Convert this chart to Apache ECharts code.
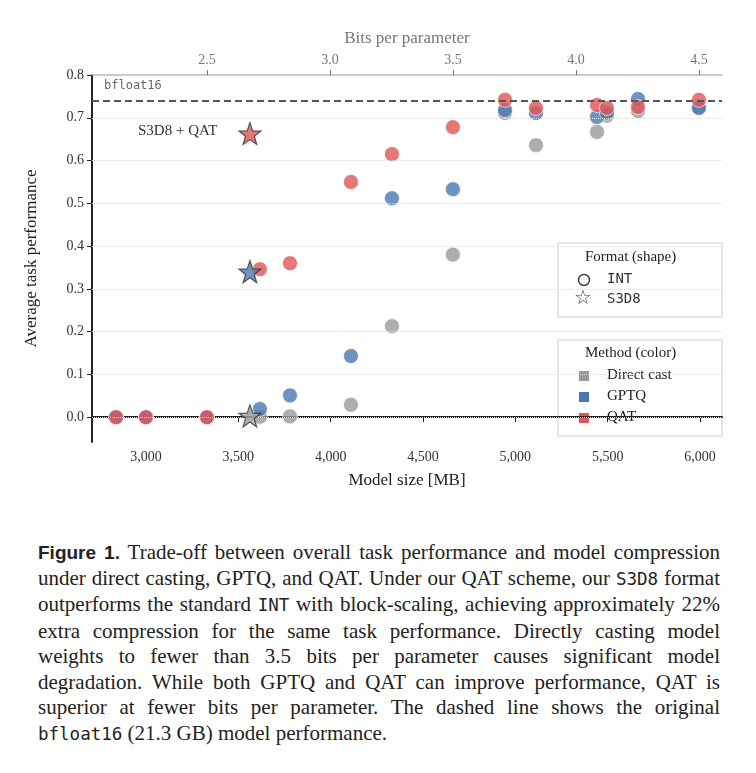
<!DOCTYPE html>
<html lang="en"><head><meta charset="utf-8">
<script src="https://cdn.jsdelivr.net/npm/echarts@6/dist/echarts.min.js"></script>
<style>
body{margin:0;background:#fff;width:756px;height:773px;overflow:hidden;position:relative}
#c{position:absolute;left:0;top:0;width:756px;height:520px}
#cap{position:absolute;left:38px;top:540px;width:682px;font-family:"Liberation Serif","DejaVu Serif",serif;font-size:21px;line-height:25.5px;color:#222;text-align:justify;hyphens:auto;-webkit-hyphens:auto}
#cap b{font-family:"Liberation Sans",sans-serif;font-size:19px}
code{font-family:"DejaVu Sans Mono",monospace;font-size:17.5px}
</style></head><body>
<div id="c"></div>
<div id="cap"><b>Figure 1.</b> Trade-off between overall task performance and model compression under direct casting, GPTQ, and QAT. Under our QAT scheme, our <code>S3D8</code> format outperforms the standard <code>INT</code> with block-scaling, achieving approximately 22% extra compression for the same task performance. Directly casting model weights to fewer than 3.5 bits per parameter causes significant model degradation. While both GPTQ and QAT can improve performance, QAT is superior at fewer bits per parameter. The dashed line shows the original <code>bfloat16</code> (21.3 GB) model performance.</div>
<script>
const sizes = [2838,3000,3330,3617,3780,4110,4332,4662,4944,5112,5442,5496,5664,5994];
const directCast = [0,0,0,0.001,0.002,0.029,0.213,0.380,0.711,0.636,0.667,0.705,0.716,0.725];
const gptq = [0,0,0,0.019,0.051,0.143,0.512,0.533,0.718,0.711,0.702,0.712,0.744,0.723];
const qat = [0,0,0,0.346,0.360,0.550,0.615,0.678,0.742,0.723,0.730,0.723,0.725,0.742];
const starSize = 3563;
const starDirect = 0.003, starGptq = 0.340, starQat = 0.663;
const bfloat16 = 0.745;
const xTicks = [3000,3500,4000,4500,5000,5500,6000];
const yTicks = [0,0.1,0.2,0.3,0.4,0.5,0.6,0.7,0.8];
const bitTicks = [2.5,3.0,3.5,4.0,4.5];
const MB_PER_BIT = 1332;
const xMin = 2708, xMax = 6119;
const C = {d:'#9a9a9a', g:'#4a78b0', q:'#e05558'};
const serif = '"Liberation Serif","DejaVu Serif",serif';
const STAR = 'path://M0,-10 L2.35,-3.24 L9.51,-3.09 L3.8,1.24 L5.88,8.09 L0,4 L-5.88,8.09 L-3.8,1.24 L-9.51,-3.09 L-2.35,-3.24 Z';
const chart = echarts.init(document.getElementById('c'));
const pts = a => sizes.map((s,i)=>[s,a[i]]);
const circ = (name,data,color)=>({name,type:'scatter',data:pts(data),symbol:'circle',symbolSize:15,
  itemStyle:{color,borderColor:'#fff',borderWidth:0.8},z:3});
const star = (v,color)=>({type:'scatter',data:[[starSize,v]],symbol:STAR,
  symbolSize:22,itemStyle:{color,borderColor:'#333',borderWidth:1.2},z:5});
const txt = (x,y,text,font,fill)=>({type:'text',x,y,style:{text,font,fill}});
chart.setOption({
  animation:false,
  grid:{left:92,right:34,top:75,bottom:78},
  xAxis:[{type:'value',min:xMin,max:xMax,position:'bottom',
    name:'Model size [MB]',nameLocation:'middle',nameGap:30,nameTextStyle:{fontFamily:serif,fontSize:17,color:'#222'},
    axisLine:{lineStyle:{color:'#222',width:2}},axisTick:{show:true,customValues:xTicks,length:5,lineStyle:{color:'#222'}},
    axisLabel:{customValues:xTicks,fontFamily:serif,fontSize:14,color:'#333'},
    splitLine:{show:false}},
   {type:'value',min:xMin/MB_PER_BIT,max:xMax/MB_PER_BIT,position:'top',
    name:'Bits per parameter',nameLocation:'middle',nameGap:28,nameTextStyle:{fontFamily:serif,fontSize:17,color:'#777'},
    axisLine:{lineStyle:{color:'#bbb',width:1.5}},axisTick:{show:true,customValues:bitTicks,length:5,lineStyle:{color:'#777'}},
    axisLabel:{customValues:bitTicks,formatter:v=>v.toFixed(1),fontFamily:serif,fontSize:14,color:'#777'},
    splitLine:{show:false}}],
  yAxis:{type:'value',min:-0.058,max:0.8,
    name:'Average task performance',nameLocation:'middle',nameGap:52,nameTextStyle:{fontFamily:serif,fontSize:17,color:'#222'},
    axisLine:{show:true,lineStyle:{color:'#222',width:2}},axisTick:{show:true,customValues:yTicks,length:5,lineStyle:{color:'#222'}},
    axisLabel:{customValues:yTicks,formatter:v=>v.toFixed(1),fontFamily:serif,fontSize:14,color:'#333'},
    splitLine:{show:false}},
  series:[
    {type:'scatter',data:[],markLine:{silent:true,symbol:'none',label:{show:false},lineStyle:{color:'#ddd',type:'dotted',width:1},
       data:yTicks.slice(0,8).map(v=>({yAxis:v}))}},
    {type:'scatter',data:[],markLine:{silent:true,symbol:'none',lineStyle:{color:'#555',type:[7,4],width:2},
       label:{show:false},data:[{yAxis:bfloat16}]}},
    circ('Direct cast',directCast,C.d),circ('GPTQ',gptq,C.g),circ('QAT',qat,C.q),
    star(starDirect,C.d),star(starGptq,C.g),star(starQat,C.q)
  ],
  graphic:[
    txt(104,80,'bfloat16','12px "DejaVu Sans Mono",monospace','#666'),
    txt(138,124,'S3D8 + QAT','15px '+serif,'#333'),
    {type:'rect',shape:{x:558,y:243,width:164,height:74},style:{fill:'rgba(255,255,255,0.9)',stroke:'#ccc',lineWidth:1}},
    txt(585,250,'Format (shape)','15px '+serif,'#222'),
    {type:'circle',shape:{cx:584,cy:280,r:5.5},style:{fill:'none',stroke:'#444',lineWidth:1.5}},
    txt(607,272,'INT','14px "DejaVu Sans Mono",monospace','#333'),
    txt(574,289,'☆','20px "DejaVu Sans",sans-serif','#444'),
    txt(607,292,'S3D8','14px "DejaVu Sans Mono",monospace','#333'),
    {type:'rect',shape:{x:558,y:340,width:164,height:96},style:{fill:'rgba(255,255,255,0.9)',stroke:'#ccc',lineWidth:1}},
    txt(585,346,'Method (color)','15px '+serif,'#222'),
    {type:'rect',shape:{x:579,y:371,width:10,height:10},style:{fill:C.d}},
    txt(607,368,'Direct cast','15px '+serif,'#222'),
    {type:'rect',shape:{x:579,y:392,width:10,height:10},style:{fill:C.g}},
    txt(607,389,'GPTQ','15px '+serif,'#222'),
    {type:'rect',shape:{x:579,y:413,width:10,height:10},style:{fill:C.q}},
    txt(607,410,'QAT','15px '+serif,'#222')
  ]
});
</script></body></html>
